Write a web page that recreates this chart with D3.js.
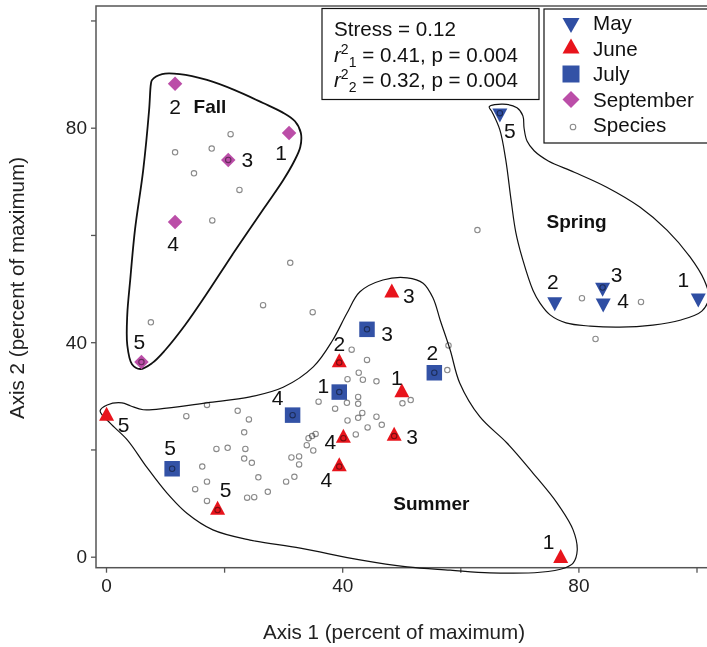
<!doctype html>
<html>
  <head>
    <meta charset="utf-8">
    <title>NMS ordination - seasons</title>
    <script src="https://cdn.jsdelivr.net/npm/d3@7"></script>
    <style>
      body { margin: 0; background: #fff; }
      svg { display: block; font-family: "Liberation Sans", Arial, sans-serif; }
      .tick text { font-size: 19px; fill: #222; }
      .tick line { stroke: #555; stroke-width: 1.3; }
      .hull { fill: none; stroke: #111; }
      .num { font-size: 21px; fill: #111; text-anchor: middle; dominant-baseline: central; }
      .grp { font-size: 19px; font-weight: bold; fill: #111; text-anchor: middle; dominant-baseline: central; }
      .species { fill: none; stroke: #8a8a8a; stroke-width: 1.1; mix-blend-mode: multiply; }
    </style>
  </head>
  <body>
    <svg id="chart" width="707" height="647"></svg>
<script>
// ---- data (axis units, percent of maximum) ----
var xTicks = [0, 20, 40, 60, 80, 100];
var yTicks = [0, 20, 40, 60, 80, 100];

var mayX = [66.7, 76.0, 84.1, 84.2, 100.3];
var mayY = [82.7, 47.5, 50.2, 47.3, 48.2];
var mayLab = ["5", "2", "3", "4", "1"];

var juneX = [48.4, 39.5, 50.1, 48.8, 40.2, 39.5, 0.1, 18.9, 77.0];
var juneY = [49.2, 36.2, 30.6, 22.5, 22.1, 16.8, 26.2, 8.7, -0.3];
var juneLab = ["3", "2", "1", "3", "4", "4", "5", "5", "1"];

var julyX = [44.2, 55.6, 39.5, 31.6, 11.2];
var julyY = [42.4, 34.3, 30.7, 26.4, 16.4];
var julyLab = ["3", "2", "1", "4", "5"];

var sepX = [31.0, 11.7, 20.7, 11.7, 6.0];
var sepY = [79.0, 88.2, 74.0, 62.4, 36.3];
var sepLab = ["1", "2", "3", "4", "5"];

var speciesX = [21.1, 11.7, 17.9, 14.9, 22.6, 18.0, 31.2, 26.6, 35.0, 7.6,
  62.9, 80.6, 90.6, 82.9, 58.0, 57.8, 41.6, 17.1, 13.6, 22.3,
  24.2, 23.4, 18.7, 20.6, 23.6, 23.4, 24.7, 16.3, 25.8, 17.1,
  15.1, 17.1, 23.9, 25.1, 27.4, 30.5, 31.9, 31.4, 32.7, 32.7,
  34.0, 34.3, 34.9, 35.5, 35.1, 36.0, 38.8, 40.9, 44.2, 42.8,
  43.5, 45.8, 40.8, 42.7, 42.7, 43.4, 42.7, 40.9, 45.8, 46.7,
  44.3, 42.3, 50.2, 51.6,
  20.7, 6.0, 66.7, 84.1, 39.5, 40.2, 39.5, 48.8, 18.9, 44.2, 55.6, 39.5, 31.6, 11.2];
var speciesY = [78.8, 75.4, 76.1, 71.5, 68.4, 62.7, 54.8, 46.9, 45.6, 43.7,
  60.9, 48.2, 47.5, 40.6, 39.4, 34.8, 38.6, 28.3, 26.2, 27.2,
  25.6, 23.2, 20.1, 20.3, 20.1, 18.3, 17.5, 16.8, 14.8, 14.0,
  12.6, 10.4, 11.0, 11.1, 12.1, 14.0, 14.9, 18.5, 18.7, 17.2,
  20.8, 22.1, 22.5, 22.9, 19.8, 28.9, 27.6, 33.1, 36.7, 34.3,
  33.0, 32.7, 28.7, 29.8, 28.5, 26.8, 25.9, 25.4, 26.1, 24.6,
  24.1, 22.8, 28.6, 29.2,
  74.0, 36.3, 82.7, 50.2, 36.2, 22.1, 16.8, 22.5, 8.7, 42.4, 34.3, 30.7, 26.4, 16.4];

// hull outlines (x, y pairs in axis units)
var fallHull = [[7.8,88.9],[9.5,90.0],[12.5,90.0],[17.1,88.9],[21.8,87.0],[26.6,84.6],[29.8,82.9],
  [32.0,81.2],[33.0,79.0],[32.9,76.4],[31.8,73.6],[30.0,70.2],[26.9,65.2],[21.7,56.8],[16.8,48.6],
  [13.4,43.2],[10.0,38.5],[7.8,36.1],[5.8,35.0],[4.4,35.9],[3.6,39.5],[3.6,45.1],[4.1,51.6],
  [4.9,60.9],[6.3,72.1],[7.3,83.3],[7.6,88.1]];
var springHull = [[64.9,83.9],[67.2,84.4],[69.6,83.7],[70.6,82.2],[70.8,79.9],[71.3,77.5],[72.5,75.7],
  [74.9,73.8],[79.3,71.7],[84.8,68.9],[90.4,65.2],[95.0,60.9],[98.9,55.9],[101.3,51.6],[102.1,48.4],
  [100.9,45.8],[97.2,44.1],[92.6,43.2],[87.0,42.8],[82.0,43.0],[77.9,43.6],[75.2,45.1],[73.5,47.3],
  [72.3,49.7],[70.6,55.3],[69.4,60.5],[68.6,66.5],[67.7,74.0],[66.7,79.6],[65.4,82.9]];
var summerHull = [[-1.0,27.2],[0.2,28.3],[2.7,28.7],[4.2,28.1],[6.3,27.4],[10.3,27.7],[17.1,28.7],
  [24.4,29.8],[30.0,31.6],[35.1,35.4],[38.4,40.4],[40.8,45.4],[43.0,49.4],[46.9,51.6],[51.0,52.0],
  [53.7,51.0],[55.4,48.2],[56.6,44.1],[58.3,38.5],[59.9,32.4],[63.3,26.1],[67.9,21.2],[72.3,15.6],
  [76.4,10.0],[79.1,5.0],[79.8,1.2],[79.1,-1.2],[77.7,-2.1],[73.5,-2.9],[65.0,-3.0],[58.3,-2.5],
  [51.0,-1.9],[43.0,-0.6],[32.9,1.6],[24.4,3.1],[18.1,5.0],[13.7,8.1],[10.3,11.9],[6.9,16.7],
  [3.6,21.8],[0.7,24.9]];

// ---- layout ----
var frame = {left: 96, top: 6, right: 720, bottom: 567.7};
var colors = {may: "#2f4ea3", june: "#e8141c", july: "#3352a6", sep: "#bb4ea8"};

// label offsets in pixels relative to each marker
var offMay = [[10, 17], [-2, -20], [14, -13], [20, -3], [-15, -19]];
var offJune = [[17, 3], [0, -19], [-5, -15], [18, 0], [-13, 3], [-13, 13], [17, 8], [8, -21], [-12, -17]];
var offJuly = [[20, 4], [-2, -20], [-16, -7], [-15, -18], [-2, -21]];
var offSep = [[-8, 19], [0, 23], [19, 0], [-2, 21], [-2, -21]];

var svg = d3.select("#chart");

var x = d3.scaleLinear().domain([0, 100]).range([106, 696.5]);
var y = d3.scaleLinear().domain([0, 100]).range([556.7, 20.45]);

// marker shapes
function triDown(w, h) {
  return "M" + (-w / 2) + "," + (-h / 3) + "L" + (w / 2) + "," + (-h / 3) + "L0," + (2 * h / 3) + "Z";
}
function triUp(w, h) {
  return "M" + (-w / 2) + "," + (h / 3) + "L" + (w / 2) + "," + (h / 3) + "L0," + (-2 * h / 3) + "Z";
}
function square(s) {
  return "M" + (-s / 2) + "," + (-s / 2) + "h" + s + "v" + s + "h" + (-s) + "Z";
}
function diamond(s) {
  var r = s / 2;
  return "M0," + (-r) + "L" + r + ",0L0," + r + "L" + (-r) + ",0Z";
}

// frame
svg.append("rect")
  .attr("x", frame.left).attr("y", frame.top)
  .attr("width", frame.right - frame.left).attr("height", frame.bottom - frame.top)
  .attr("fill", "none").attr("stroke", "#555").attr("stroke-width", 1.5);

// axes
var xAxis = d3.axisBottom(x).tickValues(xTicks).tickSize(5).tickPadding(6)
  .tickFormat(function(d) { return d % 40 === 0 ? d : ""; });
svg.append("g").attr("transform", "translate(0," + frame.bottom + ")").call(xAxis)
  .call(function(g) { g.select(".domain").remove(); });

var yAxis = d3.axisLeft(y).tickValues(yTicks).tickSize(5).tickPadding(4)
  .tickFormat(function(d) { return d % 40 === 0 ? d : ""; });
svg.append("g").attr("transform", "translate(" + frame.left + ",0)").call(yAxis)
  .call(function(g) { g.select(".domain").remove(); });

svg.selectAll(".tick text").attr("font-family", null).attr("font-size", null);

// axis titles
svg.append("text").attr("x", 394).attr("y", 639).attr("text-anchor", "middle")
  .attr("font-size", 20.6).attr("fill", "#222").text("Axis 1 (percent of maximum)");
svg.append("text").attr("transform", "translate(24,288) rotate(-90)").attr("text-anchor", "middle")
  .attr("font-size", 20.6).attr("fill", "#222").text("Axis 2 (percent of maximum)");

// hulls
var hullLine = d3.line().x(function(d) { return x(d[0]); }).y(function(d) { return y(d[1]); })
  .curve(d3.curveCatmullRomClosed.alpha(0.5));
svg.append("path").attr("class", "hull").attr("stroke-width", 1.8).attr("d", hullLine(fallHull));
svg.append("path").attr("class", "hull").attr("stroke-width", 1.2).attr("d", hullLine(springHull));
svg.append("path").attr("class", "hull").attr("stroke-width", 1.2).attr("d", hullLine(summerHull));

// group names
svg.append("text").attr("class", "grp").attr("x", x(17.6)).attr("y", y(84.0)).text("Fall");
svg.append("text").attr("class", "grp").attr("x", x(79.7)).attr("y", y(62.6)).text("Spring");
svg.append("text").attr("class", "grp").attr("x", x(55.1)).attr("y", y(10.0)).text("Summer");

// sample markers
function drawMonth(xs, ys, shape, color) {
  svg.append("g").selectAll("path").data(xs).join("path")
    .attr("transform", function(d, i) { return "translate(" + x(d) + "," + y(ys[i]) + ")"; })
    .attr("d", shape).attr("fill", color);
}
drawMonth(mayX, mayY, triDown(15, 14), colors.may);
drawMonth(juneX, juneY, triUp(15, 14), colors.june);
drawMonth(julyX, julyY, square(15.5), colors.july);
drawMonth(sepX, sepY, diamond(14.5), colors.sep);

// species points
svg.append("g").selectAll("circle").data(speciesX).join("circle")
  .attr("class", "species")
  .attr("cx", function(d) { return x(d); })
  .attr("cy", function(d, i) { return y(speciesY[i]); })
  .attr("r", 2.7);

// sample numbers
function drawLabels(xs, ys, labs, offs) {
  svg.append("g").selectAll("text").data(labs).join("text")
    .attr("class", "num")
    .attr("x", function(d, i) { return x(xs[i]) + offs[i][0]; })
    .attr("y", function(d, i) { return y(ys[i]) + offs[i][1]; })
    .text(function(d) { return d; });
}
drawLabels(mayX, mayY, mayLab, offMay);
drawLabels(juneX, juneY, juneLab, offJune);
drawLabels(julyX, julyY, julyLab, offJuly);
drawLabels(sepX, sepY, sepLab, offSep);

// stats box
var stats = svg.append("g");
stats.append("rect").attr("x", 322).attr("y", 8.5).attr("width", 217).attr("height", 91)
  .attr("fill", "#fff").attr("stroke", "#111").attr("stroke-width", 1.2);
stats.append("text").attr("x", 334).attr("y", 36).attr("font-size", 20.6).attr("fill", "#111")
  .text("Stress = 0.12");
[["1", "0.41"], ["2", "0.32"]].forEach(function(r, i) {
  var t = stats.append("text").attr("x", 334).attr("y", 61.5 + i * 25).attr("font-size", 20.6).attr("fill", "#111");
  t.append("tspan").attr("font-style", "italic").text("r");
  t.append("tspan").attr("font-size", 14).attr("dy", -8).text("2");
  t.append("tspan").attr("font-size", 14).attr("dy", 13).text(r[0]);
  t.append("tspan").attr("dy", -5).text(" = " + r[1] + ", p = 0.004");
});

// legend
var legendItems = [
  {name: "May", shape: triDown(17, 15), color: colors.may},
  {name: "June", shape: triUp(17, 15), color: colors.june},
  {name: "July", shape: square(17), color: colors.july},
  {name: "September", shape: diamond(17), color: colors.sep},
  {name: "Species", shape: null}
];
var legend = svg.append("g");
legend.append("rect").attr("x", 544).attr("y", 9).attr("width", 200).attr("height", 134)
  .attr("fill", "#fff").attr("stroke", "#111").attr("stroke-width", 1.2);
legendItems.forEach(function(d, i) {
  var cy = 23 + i * 25.5;
  if (d.shape) {
    legend.append("path").attr("transform", "translate(571," + cy + ")").attr("d", d.shape).attr("fill", d.color);
  } else {
    legend.append("circle").attr("class", "species").attr("cx", 573).attr("cy", cy + 2).attr("r", 2.8);
  }
  legend.append("text").attr("x", 593).attr("y", cy + 7).attr("font-size", 20.6).attr("fill", "#111").text(d.name);
});
</script>
  </body>
</html>
